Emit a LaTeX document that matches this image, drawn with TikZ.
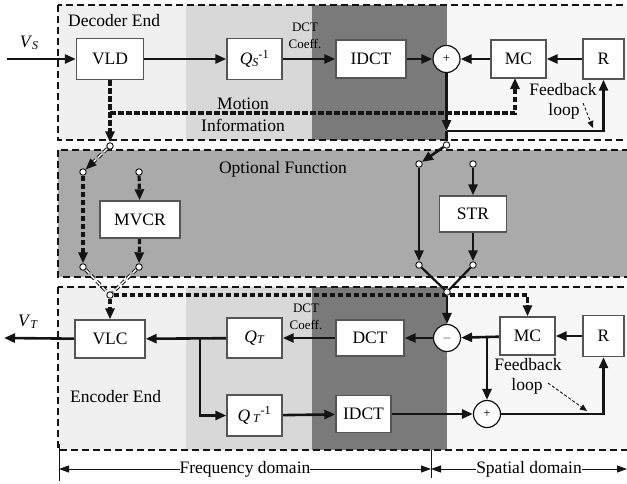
\documentclass[tikz,border=0pt]{standalone}
\usepackage{fontspec}
\setmainfont{Liberation Serif}
\usetikzlibrary{arrows.meta,calc}
\definecolor{colA}{RGB}{240,240,240}
\definecolor{colB}{RGB}{216,216,216}
\definecolor{colC}{RGB}{122,122,122}
\definecolor{colD}{RGB}{247,247,247}
\definecolor{optgray}{RGB}{170,170,170}
\definecolor{boxline}{RGB}{85,85,85}
\definecolor{ink}{RGB}{20,20,20}
\pgfdeclarelayer{back}
\pgfdeclarelayer{wires}
\pgfsetlayers{back,wires,main}
\newcommand\subit[1]{\raisebox{-1.5pt}{\fontsize{12}{12}\selectfont\textit{#1}}}
\begin{document}
\begin{tikzpicture}[x=1pt,y=-1pt,
  every node/.style={font=\fontsize{17.5}{19}\selectfont},
  blk/.style={draw=boxline, line width=1.4pt, fill=white, minimum height=38pt, inner sep=0pt},
  sumnode/.style={circle, draw=ink, line width=1.2pt, fill=white, minimum size=27pt, inner sep=0pt, font=\fontsize{13}{13}\selectfont},
  port/.style={circle, draw=ink, line width=0.9pt, fill=white, minimum size=6.5pt, inner sep=0pt},
  zone/.style={draw=ink, line width=1.4pt, dash pattern=on 7pt off 4pt},
  tipA/.style={-{Triangle[length=11pt,width=9pt]}},
  sig/.style={draw=ink, line width=2.6pt, tipA},
  wire/.style={draw=ink, line width=2.2pt},
  mv/.style={draw=ink, line width=3.2pt, dash pattern=on 5.5pt off 2.5pt},
  mvtip/.style={mv, tipA},
  sw/.style={draw=ink, line width=1pt, double, double distance=1.4pt, dash pattern=on 5pt off 3pt},
  note/.style={draw=ink, line width=0.9pt, dash pattern=on 3pt off 2pt, -{Triangle[length=7pt,width=6pt]}},
  lbl/.style={font=\fontsize{17.5}{19}\selectfont, inner sep=0pt},
  small/.style={font=\fontsize{13}{17}\selectfont, align=center, inner sep=0pt},
  dim/.style={draw=ink, line width=0.9pt, {Triangle[length=10pt,width=7pt]}-{Triangle[length=10pt,width=7pt]}},
]
\useasboundingbox (0,0) rectangle (627,483);
\clip (0,0) rectangle (627,483);

% ---------- shaded domains and dashed zones ----------
\begin{pgfonlayer}{back}
  \fill[white] (0,0) rectangle (627,483);
  \foreach \ya/\yb in {5/140, 287/450} {
    \fill[colA] (58,\ya) rectangle (186,\yb);
    \fill[colB] (186,\ya) rectangle (312,\yb);
    \fill[colC] (312,\ya) rectangle (446.5,\yb);
    \fill[colD] (446.5,\ya) rectangle (640,\yb);
  }
  \fill[optgray] (58,150) rectangle (640,277);
  \draw[zone] (58,5) rectangle (640,140);
  \draw[zone] (58,150) rectangle (640,277);
  \draw[zone] (58,287) rectangle (640,450);
\end{pgfonlayer}

% ---------- decoder end ----------
\node[lbl, anchor=west] (declbl) at (68,21) {Decoder End};
\node[blk, minimum width=67pt, minimum height=41pt] (vld) at (110,59) {VLD};
\node[blk, minimum width=55pt, minimum height=41pt] (qsi) at (254.5,59) {\textit{Q}\subit{S}\textsuperscript{-1}};
\node[blk, minimum width=70pt] (idct1) at (371,59) {IDCT};
\node[sumnode] (add1) at (446.5,59) {+};
\node[blk, minimum width=55pt] (mc1) at (518.5,59) {MC};
\node[blk, minimum width=41pt, minimum height=40pt] (r1) at (603.5,59) {R};
\node[lbl] (vslbl) at (29,43) {\textit{V}\subit{S}};
\node[small] (coef1) at (305,36) {DCT\\Coeff.};
\node[lbl] (motlbl) at (243,104) {Motion};
\node[lbl] (inflbl) at (243,125) {Information};
\node[lbl] (fb1lbl) at (563,90) {Feedback};
\node[lbl] (lp1lbl) at (564,111) {loop};

\coordinate (vsin) at (7,59);
\coordinate (fb1) at (446.5,131);
\coordinate (mvturn) at (110,113);
\coordinate (mcin) at (515,78);
\coordinate (n1a) at (583,103);
\coordinate (n1b) at (593,128);

% ---------- optional function ----------
\node[lbl] (optlbl) at (283,169) {Optional Function};
\node[port] (pd1) at (110,146) {};
\node[port] (po1) at (83,172) {};
\node[port] (po2) at (139,172) {};
\node[port] (po3) at (83,267) {};
\node[port] (po4) at (139,267) {};
\node[blk, minimum width=80pt, minimum height=37pt] (mvcr) at (140,219.5) {MVCR};
\node[port] (pe1) at (110,295) {};

\node[port] (pd2) at (446.5,145) {};
\node[port] (ps1) at (419,164) {};
\node[port] (ps2) at (473,164) {};
\node[port] (ps3) at (419,265) {};
\node[port] (ps4) at (473,265) {};
\node[blk, minimum width=67pt, minimum height=36pt] (str) at (473,214) {STR};
\node[port] (pe2) at (447,292) {};

% ---------- encoder end ----------
\node[lbl, anchor=west] (enclbl) at (70,397) {Encoder End};
\node[blk, minimum width=70pt] (vlc) at (110,339) {VLC};
\node[blk, minimum width=55pt, minimum height=40pt] (qt) at (254.5,338) {\textit{Q}\subit{T}};
\node[blk, minimum width=55pt, minimum height=41pt] (qti) at (254.5,415.5) {\textit{Q}\,\subit{T}\textsuperscript{-1}};
\node[blk, minimum width=68pt, minimum height=36pt] (dct2) at (370,338) {DCT};
\node[sumnode] (sub) at (447,338) {$-$};
\node[blk, minimum width=55pt] (mc2) at (527.5,336) {MC};
\node[blk, minimum width=41pt, minimum height=41pt] (r2) at (603.5,336) {R};
\node[blk, minimum width=55pt, minimum height=37pt] (idct2) at (363.5,414) {IDCT};
\node[sumnode] (add2) at (487,414) {+};
\node[lbl] (vtlbl) at (28,322) {\textit{V}\subit{T}};
\node[small] (coef2) at (306,317) {DCT\\Coeff.};
\node[lbl] (fb2lbl) at (528,365) {Feedback};
\node[lbl] (lp2lbl) at (527,386) {loop};

\coordinate (vtout) at (4,338);
\coordinate (j1) at (200,338);
\coordinate (j2) at (487,338);
\coordinate (n2a) at (548,383);
\coordinate (n2b) at (587,411);

% ---------- domain axis ----------
\coordinate (fL) at (59,469);
\coordinate (fM) at (431,469);
\coordinate (fR) at (627,469);
\coordinate (tLa) at (59,444);
\coordinate (tLb) at (59,481);
\coordinate (tMa) at (431,450);
\coordinate (tMb) at (431,478);

\begin{pgfonlayer}{wires}
  % decoder signal path
  \draw[sig] (vsin) -- (vld);
  \draw[sig] (vld) -- (qsi);
  \draw[sig] (qsi) -- (idct1);
  \draw[sig] (idct1) -- (add1);
  \draw[sig] (mc1) -- (add1);
  \draw[sig] (r1) -- (mc1);
  \draw[sig] (add1) -- (fb1);
  \draw[sig] (fb1) -| (r1);
  \draw[wire] (fb1) -- (pd2);
  \draw[note] (n1a) -- (n1b);
  % motion information
  \draw[mvtip] (vld) -- (pd1);
  \draw[mvtip] (mvturn) -| (mcin);
  % optional: motion vector path
  \draw[sw, tipA] (pd1) -- (po1);
  \draw[mvtip] (po1) -- (po3);
  \draw[mvtip] (po2) -- (mvcr);
  \draw[mvtip] (mvcr) -- (po4);
  \draw[sw] (po3) -- (pe1);
  \draw[sw] (po4) -- (pe1);
  % optional: spatial path
  \draw[sig] (pd2) -- (ps1);
  \draw[sig] (ps1) -- (ps3);
  \draw[sig] (ps2) -- (str);
  \draw[sig] (str) -- (ps4);
  \draw[wire] (ps3) -- (pe2);
  \draw[wire] (ps4) -- (pe2);
  % encoder
  \draw[mvtip] (pe1) -- (vlc);
  \draw[mvtip] (pe1) -| (mc2);
  \draw[sig] (pe2) -- (sub);
  \draw[sig] (mc2) -- (sub);
  \draw[sig] (j2) -- (add2);
  \draw[sig] (r2) -- (mc2);
  \draw[sig] (sub) -- (dct2);
  \draw[sig] (dct2) -- (qt);
  \draw[sig] (qt) -- (vlc);
  \draw[sig] (vlc) -- (vtout);
  \draw[sig] (j1) |- (qti);
  \draw[sig] (qti) -- (idct2);
  \draw[sig] (idct2) -- (add2);
  \draw[sig] (add2) -| (r2);
  \draw[note] (n2a) -- (n2b);
  % domain axis
  \draw[line width=0.9pt, ink] (tLa) -- (tLb);
  \draw[line width=0.9pt, ink] (tMa) -- (tMb);
  \draw[dim] (fL) -- node[fill=white, inner sep=5pt, lbl] (freqlbl) {Frequency domain} (fM);
  \draw[dim] (fM) -- node[fill=white, inner sep=5pt, lbl] (spatlbl) {Spatial domain} (fR);
\end{pgfonlayer}
\end{tikzpicture}
\end{document}
